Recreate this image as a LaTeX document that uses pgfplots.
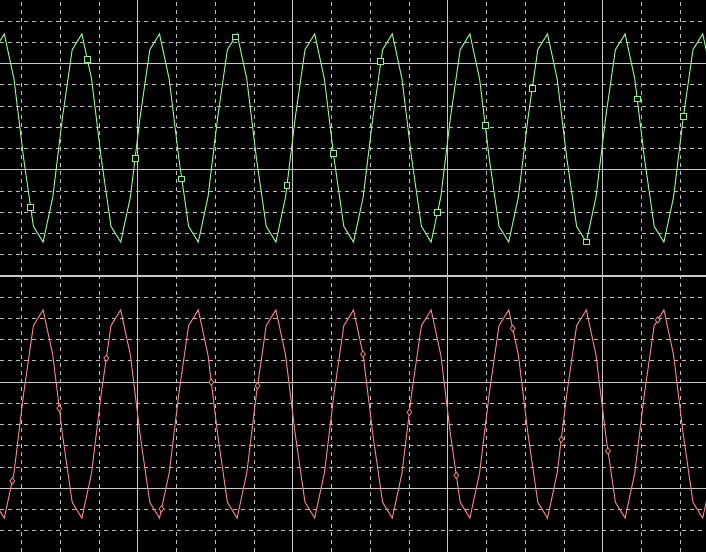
\documentclass[border=0pt]{standalone}
\usepackage{pgfplots}
\usepackage{pgfplotstable}
\pgfplotsset{compat=1.18}
\definecolor{cGreen}{HTML}{8CF08C}
\definecolor{cRed}{HTML}{F08080}
\definecolor{cGridA}{HTML}{C8C8C8}
\definecolor{cGridB}{HTML}{BEBEBE}

% s = sample index, g = upper (green) trace, r = lower (red) trace
\pgfplotstableread{
s g r
-1 10.660 -10.660
0 11.403 -11.403
1 9.274 -9.274
2 5.520 -5.520
3 2.340 -2.340
4 1.597 -1.597
5 3.726 -3.726
6 7.480 -7.480
7 10.660 -10.660
8 11.403 -11.403
9 9.274 -9.274
10 5.520 -5.520
11 2.340 -2.340
12 1.597 -1.597
13 3.726 -3.726
14 7.480 -7.480
15 10.660 -10.660
16 11.403 -11.403
17 9.274 -9.274
18 5.520 -5.520
19 2.340 -2.340
20 1.597 -1.597
21 3.726 -3.726
22 7.480 -7.480
23 10.660 -10.660
24 11.403 -11.403
25 9.274 -9.274
26 5.520 -5.520
27 2.340 -2.340
28 1.597 -1.597
29 3.726 -3.726
30 7.480 -7.480
31 10.660 -10.660
32 11.403 -11.403
33 9.274 -9.274
34 5.520 -5.520
35 2.340 -2.340
36 1.597 -1.597
37 3.726 -3.726
38 7.480 -7.480
39 10.660 -10.660
40 11.403 -11.403
41 9.274 -9.274
42 5.520 -5.520
43 2.340 -2.340
44 1.597 -1.597
45 3.726 -3.726
46 7.480 -7.480
47 10.660 -10.660
48 11.403 -11.403
49 9.274 -9.274
50 5.520 -5.520
51 2.340 -2.340
52 1.597 -1.597
53 3.726 -3.726
54 7.480 -7.480
55 10.660 -10.660
56 11.403 -11.403
57 9.274 -9.274
58 5.520 -5.520
59 2.340 -2.340
60 1.597 -1.597
61 3.726 -3.726
62 7.480 -7.480
63 10.660 -10.660
64 11.403 -11.403
65 9.274 -9.274
66 5.520 -5.520
67 2.340 -2.340
68 1.597 -1.597
69 3.726 -3.726
70 7.480 -7.480
71 10.660 -10.660
72 11.403 -11.403
73 9.274 -9.274
}\waves

\pgfplotstableread{
s y
2.72 3.23
8.56 10.21
13.49 5.55
18.30 4.57
23.81 11.26
29.14 4.25
33.93 5.78
38.82 10.09
44.65 2.98
49.58 7.10
54.43 8.85
60.00 1.60
65.25 8.34
70.01 7.51
}\gmarks

\pgfplotstableread{
s y
0.83 -9.65
5.67 -6.24
10.52 -3.87
16.20 -10.97
21.34 -5.00
26.11 -5.17
36.98 -3.68
41.76 -6.42
46.60 -9.39
52.41 -2.47
57.42 -7.70
62.24 -8.24
67.36 -2.07
}\rmarks

\begin{document}
\begin{tikzpicture}
\begin{axis}[
  scale only axis, width=7.06in, height=5.52in,
  xmin=-0.443, xmax=72.34, ymin=-13, ymax=13,
  axis background/.style={fill=black},
  axis line style={draw=none},
  xtick={13.77,29.75,45.72,61.70},
  minor xtick={1.79,5.78,9.78,17.76,21.76,25.75,33.74,37.73,41.73,49.72,53.71,57.70,65.69,69.69},
  ytick={-10,-5,0,5,10},
  minor ytick={-12,-11,-9,-8,-7,-6,-4,-3,-2,-1,1,2,3,4,6,7,8,9,11,12},
  xticklabels={}, yticklabels={},
  major tick length=0pt, minor tick length=0pt,
  grid=both,
  major grid style={cGridA, line width=0.75pt, solid},
  minor grid style={cGridB, line width=0.7pt, dash pattern=on 2.9pt off 2.9pt},
  clip=true,
]
\addplot[cGreen, line width=0.75pt] table[x=s, y=g] {\waves};
\addplot[cRed, line width=0.75pt] table[x=s, y=r] {\waves};
\addplot[only marks, mark=square*, mark size=2.1pt, cGreen, line width=0.7pt,
  mark options={fill=black}] table[x=s, y=y] {\gmarks};
\addplot[only marks, mark=diamond*, mark size=2.3pt, cRed, line width=0.6pt,
  mark options={fill=black}] table[x=s, y=y] {\rmarks};
\end{axis}
\pgfresetboundingbox
\path[use as bounding box] (current axis.south west) rectangle (current axis.north east);
\end{tikzpicture}
\end{document}
